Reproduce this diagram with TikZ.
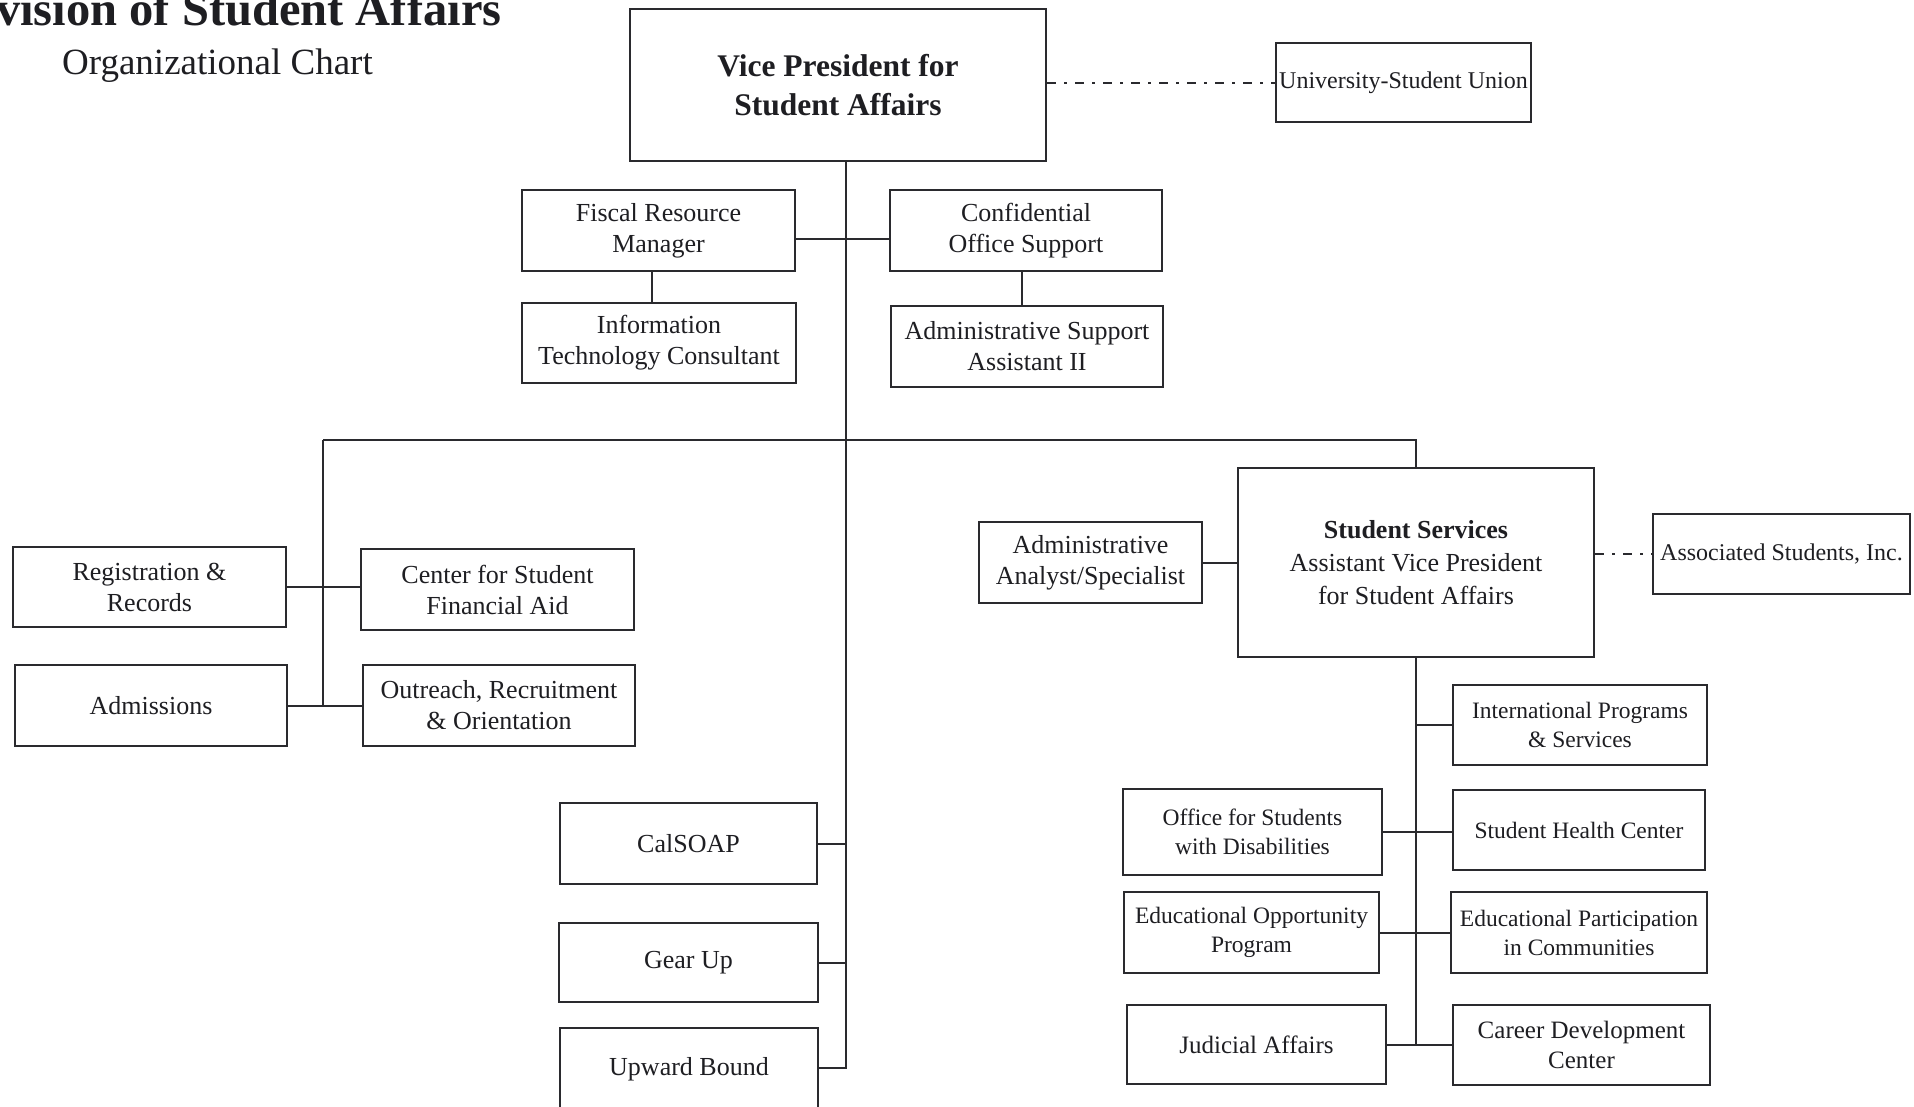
\documentclass[tikz,border=0pt]{standalone}
\usepackage{fontspec}
\setmainfont{Liberation Serif}
\definecolor{lc}{HTML}{2A2A2E}
\definecolor{tc}{HTML}{1E1E22}
\begin{document}
\begin{tikzpicture}[x=1pt,y=-1pt,
  box/.style={draw=lc, line width=2.2pt, align=center, inner sep=0pt, text=tc,
    font=\fontsize{26}{31}\selectfont},
  smallbox/.style={box, font=\fontsize{23.5}{29}\selectfont},
  sz/.style n args={2}{minimum width=#1pt, minimum height=#2pt},
  conn/.style={draw=lc, line width=2pt},
  dashdot/.style={draw=lc, line width=2pt, dash pattern=on 9pt off 8pt on 3pt off 8pt}]
\useasboundingbox (0,0) rectangle (1914,1106);
\fill[white] (0,0) rectangle (1914,1106);
\clip (0,0) rectangle (1914,1106);

% titles
\node[anchor=base west, inner sep=0pt, text=tc, font=\fontsize{48.5}{52}\selectfont\bfseries] (title) at (-4,25) {vision of Student Affairs};
\node[anchor=base west, inner sep=0pt, text=tc, font=\fontsize{37}{42}\selectfont] (subtitle) at (62,74) {Organizational Chart};

% top level
\node[box, sz={416}{152}, font=\fontsize{31.5}{39}\selectfont\bfseries] (vp) at (838,85) {Vice President for\\Student Affairs};
\node[box, sz={255}{79}, font=\fontsize{24}{29}\selectfont] (usu) at (1403.5,82.5) {University-Student Union};

\node[box, sz={273}{81}] (fiscal) at (658.5,230.5) {Fiscal Resource\\Manager};
\node[box, sz={272}{81}] (conf) at (1026,230.5) {Confidential\\Office Support};
\node[box, sz={274}{80}] (infotech) at (659,343) {Information\\Technology Consultant};
\node[box, sz={272}{81}] (adminsup) at (1027,346.5) {Administrative Support\\Assistant II};

% left group
\node[box, sz={273}{80}] (reg) at (149.5,587) {Registration \&\\Records};
\node[box, sz={273}{81}] (csfa) at (497.5,589.5) {Center for Student\\Financial Aid};
\node[box, sz={272}{81}] (adm) at (151,705.5) {Admissions};
\node[box, sz={272}{81}] (outreach) at (499,705.5) {Outreach, Recruitment\\\& Orientation};

% trunk programs
\node[box, sz={257}{81}] (calsoap) at (688.5,843.5) {CalSOAP};
\node[box, sz={259}{79}] (gearup) at (688.5,962.5) {Gear Up};
\node[box, sz={258}{82}] (upward) at (689,1069) {Upward Bound};

% student services
\node[box, sz={356}{189}, font=\fontsize{26}{33}\selectfont] (ss) at (1416,562.5) {\textbf{Student Services}\\Assistant Vice President\\for Student Affairs};
\node[box, sz={223}{81}] (aa) at (1090.5,562.5) {Administrative\\Analyst/Specialist};
\node[box, sz={257}{80}, font=\fontsize{24}{29}\selectfont] (asi) at (1781.5,554) {Associated Students, Inc.};

\node[smallbox, sz={254}{80}] (intl) at (1580,725) {International Programs\\\& Services};
\node[smallbox, sz={259}{86}] (osd) at (1252.5,832) {Office for Students\\with Disabilities};
\node[smallbox, sz={252}{80}] (shc) at (1579,830) {Student Health Center};
\node[smallbox, sz={255}{81}] (eop) at (1251.5,932.5) {Educational Opportunity\\Program};
\node[smallbox, sz={256}{81}] (epic) at (1579,932.5) {Educational Participation\\in Communities};
\node[box, sz={259}{79}, font=\fontsize{25}{30}\selectfont] (judicial) at (1256.5,1044.5) {Judicial Affairs};
\node[box, sz={257}{80}, font=\fontsize{25}{30}\selectfont] (career) at (1581.5,1045) {Career Development\\Center};

% connectors
\coordinate (trunkbot) at (846,1068);
\coordinate (lb) at (323,440);
\draw[conn] (vp.south -| trunkbot) -- (trunkbot) -- (upward.east |- trunkbot);
\draw[dashdot] (vp.east |- usu.west) -- (usu.west);
\draw[conn] ([yshift=-8pt]fiscal.east) -- ([yshift=-8pt]conf.west);
\draw[conn] ([xshift=-7pt]fiscal.south) -- ([xshift=-7pt]fiscal.south |- infotech.north);
\draw[conn] ([xshift=-4pt]conf.south) -- ([xshift=-4pt]conf.south |- adminsup.north);
\draw[conn] (lb) -- (lb -| ss.north) -- (ss.north);
\draw[conn] (lb) -- (lb |- adm.east);
\draw[conn] (reg.east) -- (reg.east -| csfa.west);
\draw[conn] (adm.east) -- (outreach.west);
\draw[conn] (calsoap.east) -- (calsoap.east -| trunkbot);
\draw[conn] (gearup.east) -- (gearup.east -| trunkbot);
\draw[conn] (aa.east) -- (ss.west);
\draw[dashdot] (asi.west -| ss.east) -- (asi.west);
\draw[conn] (ss.south) -- (ss.south |- judicial.east);
\draw[conn] (intl.west) -- (intl.west -| ss.south);
\draw[conn] (osd.east) -- (osd.east -| shc.west);
\draw[conn] (eop.east) -- (epic.west);
\draw[conn] (judicial.east) -- (judicial.east -| career.west);
\end{tikzpicture}
\end{document}
